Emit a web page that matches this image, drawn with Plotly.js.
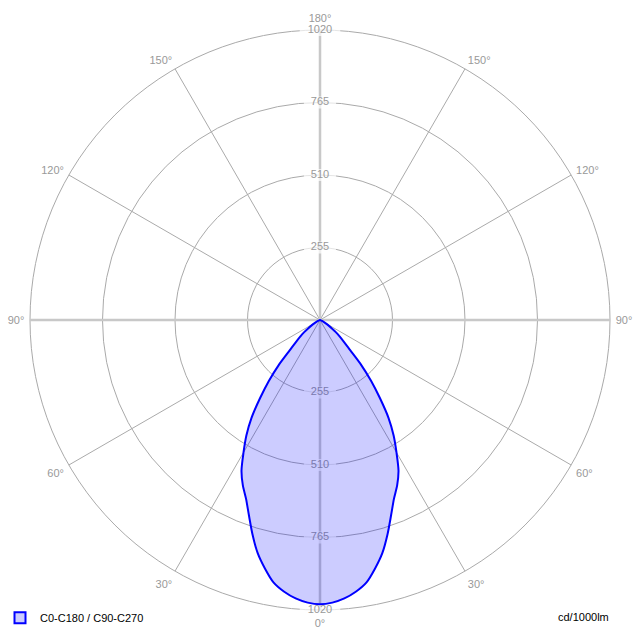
<!DOCTYPE html>
<html>
<head>
<meta charset="utf-8">
<script src="https://cdn.plot.ly/plotly-3.0.1.min.js"></script>
<style>
html,body{margin:0;padding:0;background:#fff;}
#chart{width:640px;height:640px;}
</style>
</head>
<body>
<div id="chart"></div>
<script>
// Polar angles (degrees from nadir) and intensity (cd/1000lm), symmetric curve
const gammaAngles = [0, 2.5, 5, 7.5, 10, 12.5, 15, 17.5, 20, 22.5, 25, 27.5, 30, 32.5, 35, 37.5, 40, 42.5, 45, 47.5, 50, 52.5, 55, 57.5, 60, 65, 70, 75, 80, 90];
const intensity   = [1000, 995, 983, 964, 938, 895, 848, 790, 731, 680, 642, 598, 538, 482, 420, 346, 280, 215, 150, 115, 90, 70, 50, 35, 22, 8, 3, 1, 0, 0];
const seriesName = "C0-C180 / C90-C270";
const angTickVals = [0, 30, 60, 90, 120, 150, 180, 210, 240, 270, 300, 330];
const angTickText = ["0°", "30°", "60°", "90°", "120°", "150°", "180°", "150°", "120°", "90°", "60°", "30°"];
const radTicks = [255, 510, 765, 1020];
const unitLabel = "cd/1000lm";

// full closed curve: left side (360-a) from 90 down to 0, then right side 0..90
const theta = [], r = [];
for (let i = gammaAngles.length - 1; i > 0; i--) { theta.push(360 - gammaAngles[i]); r.push(intensity[i]); }
for (let i = 0; i < gammaAngles.length; i++) { theta.push(gammaAngles[i]); r.push(intensity[i]); }

const font = "Liberation Sans, Arial, sans-serif";
const rMax = radTicks[radTicks.length - 1];

// main axes through the centre (lighter, thicker)
const axisSegs = [0, 90, 180, 270].map(a => ({
  type: 'scatterpolar', mode: 'lines',
  theta: [a, a], r: [0, rMax],
  line: {color: '#c8c8c8', width: 2.5},
  hoverinfo: 'skip', showlegend: false
}));

// radial value labels on the vertical axis, with a white box behind them
const radText = [], radTh = [], radR = [], boxW = [];
radTicks.forEach(v => { radText.push(String(v)); radTh.push(180); radR.push(v); boxW.push(String(v).length * 6 + 5); });
radTicks.forEach(v => { radText.push(String(v)); radTh.push(0); radR.push(v); boxW.push(String(v).length * 6 + 5); });
const radLabels = {
  type: 'scatterpolar', mode: 'markers+text',
  theta: radTh, r: radR, text: radText,
  textposition: 'middle center',
  textfont: {family: font, size: 11, color: '#999999'},
  marker: {symbol: 'line-ew', size: boxW, color: '#ffffff', line: {color: '#ffffff', width: 12}},
  cliponaxis: false,
  hoverinfo: 'skip', showlegend: false
};

const curve = {
  type: 'scatterpolar', mode: 'lines',
  theta: theta, r: r,
  fill: 'toself', fillcolor: 'rgba(0,0,255,0.2)',
  line: {color: '#0000ff', width: 2, shape: 'spline', smoothing: 0.8},
  name: seriesName, showlegend: false, hoverinfo: 'skip'
};

// legend swatch entry
const legendEntry = {
  type: 'scatterpolar', mode: 'markers',
  theta: [null], r: [null],
  marker: {symbol: 'square', size: 11, color: '#ccccff', line: {color: '#0000ff', width: 2}},
  name: seriesName, showlegend: true, hoverinfo: 'skip'
};

const layout = {
  width: 640, height: 640,
  margin: {l: 0, r: 0, t: 0, b: 0},
  paper_bgcolor: '#ffffff',
  font: {family: font, size: 11, color: '#999999'},
  showlegend: true,
  legend: {x: 0.0, y: 0.012, xanchor: 'left', yanchor: 'bottom',
           font: {family: font, size: 11, color: '#000000'}, bgcolor: 'rgba(0,0,0,0)'},
  polar: {
    domain: {x: [30/640, 610/640], y: [30/640, 610/640]},
    bgcolor: 'rgba(0,0,0,0)',
    radialaxis: {range: [0, rMax], tickvals: radTicks, showticklabels: false, ticks: '',
                 showline: false, gridcolor: '#aaaaaa', gridwidth: 1, layer: 'below traces'},
    angularaxis: {rotation: -90, direction: 'counterclockwise',
                  tickvals: angTickVals, ticktext: angTickText,
                  ticks: 'outside', ticklen: 3, tickcolor: 'rgba(0,0,0,0)', showticklabels: true,
                  tickfont: {family: font, size: 11, color: '#999999'},
                  showline: true, linecolor: '#aaaaaa', linewidth: 1,
                  gridcolor: '#aaaaaa', gridwidth: 1, layer: 'below traces'}
  },
  annotations: [{
    text: unitLabel, xref: 'paper', yref: 'paper', x: 0.955, y: 0.036,
    xanchor: 'right', yanchor: 'middle', showarrow: false,
    font: {family: font, size: 11, color: '#000000'}
  }]
};

Plotly.newPlot('chart', [...axisSegs, radLabels, curve, legendEntry], layout, {displayModeBar: false, staticPlot: true});
</script>
</body>
</html>
